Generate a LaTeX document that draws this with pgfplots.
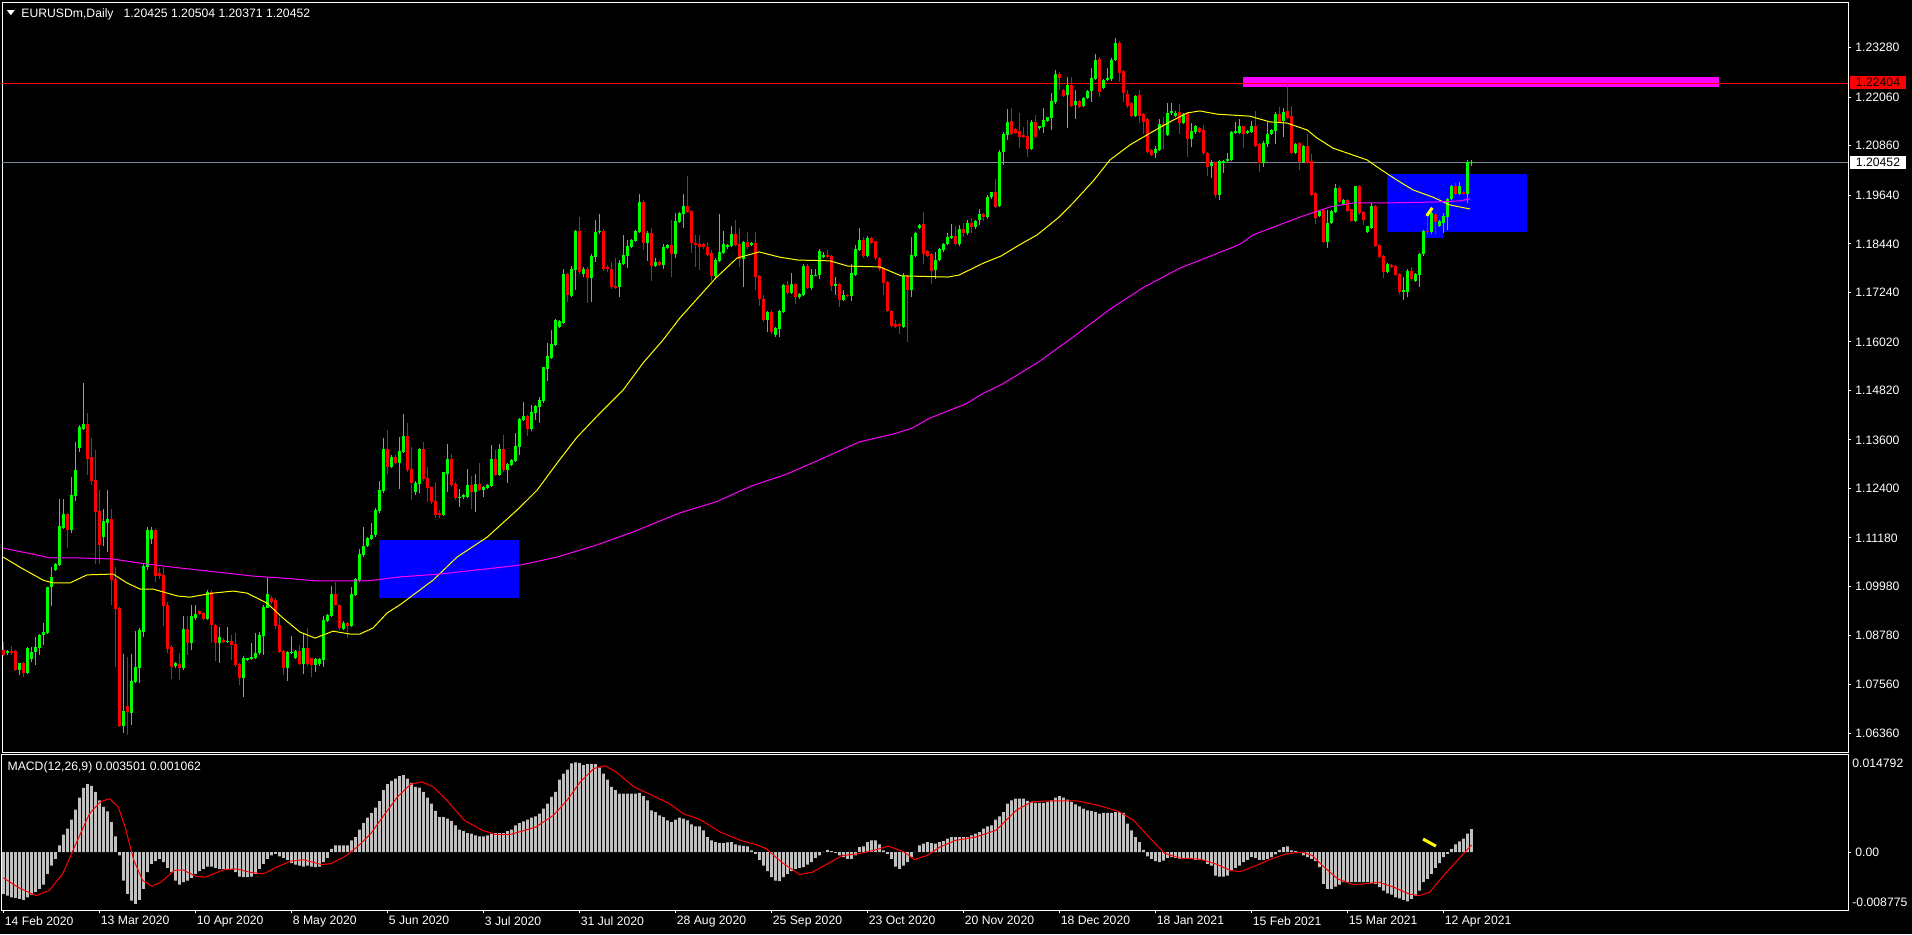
\documentclass[border=0pt]{standalone}
\usepackage{fontspec}
\setmainfont{Liberation Sans}
\usepackage{pgfplots}
\usepackage{pgfplotstable}
\pgfplotsset{compat=1.18}

\definecolor{bull}{RGB}{0,255,0}
\definecolor{bear}{RGB}{255,0,0}
\definecolor{histgray}{RGB}{192,192,192}
\definecolor{bidline}{RGB}{119,136,153}
\definecolor{mayellow}{RGB}{255,255,0}
\definecolor{mamagenta}{RGB}{255,0,255}
\definecolor{zoneblue}{RGB}{0,0,255}

\newcommand\lblfont{\fontsize{6.1}{7.3}\selectfont}

% daily EURUSD candles, one row per bar (x = row number)
\pgfplotstableread{
o h l c
1.0841 1.0861 1.0826 1.0829
1.0835 1.0842 1.0830 1.0839
1.0839 1.0851 1.0829 1.0835
1.0838 1.0841 1.0790 1.0792
1.0792 1.0810 1.0780 1.0808
1.0808 1.0811 1.0775 1.0785
1.0785 1.0848 1.0783 1.0845
1.0819 1.0850 1.0813 1.0837
1.0837 1.0874 1.0804 1.0848
1.0847 1.0881 1.0829 1.0878
1.0878 1.0907 1.0854 1.0886
1.0884 1.0998 1.0880 1.0996
1.0996 1.1047 1.0950 1.1021
1.1039 1.1056 1.1036 1.1054
1.1052 1.1214 1.1050 1.1146
1.1143 1.1214 1.1140 1.1177
1.1177 1.1180 1.1094 1.1137
1.1137 1.1269 1.1130 1.1224
1.1222 1.1356 1.1209 1.1286
1.1339 1.1398 1.1330 1.1390
1.1388 1.1500 1.1385 1.1399
1.1399 1.1427 1.1273 1.1313
1.1316 1.1366 1.1248 1.1258
1.1261 1.1335 1.1055 1.1182
1.1184 1.1236 1.1055 1.1100
1.1120 1.1190 1.1098 1.1158
1.1156 1.1236 1.1084 1.1165
1.1165 1.1190 1.0952 1.1014
1.1016 1.1047 1.0800 1.0942
1.0945 1.0948 1.0652 1.0654
1.0654 1.0831 1.0637 1.0689
1.0703 1.0825 1.0632 1.0689
1.0687 1.0831 1.0656 1.0765
1.0763 1.0888 1.0759 1.0799
1.0798 1.0895 1.0759 1.0889
1.0887 1.1057 1.0874 1.1049
1.1047 1.1146 1.1040 1.1137
1.1115 1.1146 1.1102 1.1137
1.1137 1.1140 1.1010 1.1025
1.1030 1.1043 1.1018 1.1024
1.1025 1.1047 1.0902 1.0951
1.0953 1.0960 1.0835 1.0845
1.0847 1.0855 1.0770 1.0800
1.0803 1.0812 1.0798 1.0808
1.0806 1.0835 1.0767 1.0797
1.0797 1.0926 1.0793 1.0893
1.0893 1.0926 1.0830 1.0858
1.0858 1.0952 1.0841 1.0924
1.0921 1.0952 1.0915 1.0930
1.0937 1.0940 1.0928 1.0930
1.0932 1.0935 1.0915 1.0919
1.0919 1.0989 1.0915 1.0984
1.0984 1.0989 1.0858 1.0903
1.0903 1.0906 1.0815 1.0858
1.0858 1.0899 1.0810 1.0872
1.0866 1.0870 1.0858 1.0862
1.0862 1.0899 1.0858 1.0864
1.0864 1.0878 1.0817 1.0855
1.0856 1.0883 1.0800 1.0804
1.0806 1.0810 1.0755 1.0773
1.0773 1.0828 1.0726 1.0820
1.0817 1.0823 1.0814 1.0820
1.0820 1.0859 1.0818 1.0824
1.0822 1.0883 1.0820 1.0834
1.0834 1.0886 1.0830 1.0878
1.0876 1.0952 1.0830 1.0946
1.0946 1.1019 1.0944 1.0979
1.0969 1.0975 1.0955 1.0960
1.0963 1.0969 1.0894 1.0900
1.0903 1.0924 1.0834 1.0837
1.0839 1.0842 1.0780 1.0797
1.0797 1.0840 1.0766 1.0837
1.0835 1.0876 1.0832 1.0837
1.0823 1.0842 1.0820 1.0839
1.0839 1.0854 1.0805 1.0808
1.0808 1.0882 1.0783 1.0845
1.0845 1.0895 1.0803 1.0806
1.0820 1.0823 1.0774 1.0804
1.0805 1.0821 1.0787 1.0818
1.0806 1.0822 1.0803 1.0818
1.0818 1.0926 1.0800 1.0915
1.0914 1.0931 1.0911 1.0928
1.0926 1.0999 1.0922 1.0978
1.0978 1.1010 1.0950 1.0952
1.0952 1.0955 1.0890 1.0895
1.0894 1.0912 1.0890 1.0908
1.0908 1.0911 1.0871 1.0902
1.0902 1.0996 1.0898 1.0978
1.0977 1.1020 1.0975 1.1016
1.1014 1.1092 1.1010 1.1078
1.1076 1.1146 1.1070 1.1098
1.1098 1.1121 1.1095 1.1117
1.1115 1.1154 1.1112 1.1125
1.1125 1.1192 1.1120 1.1187
1.1185 1.1258 1.1180 1.1236
1.1234 1.1364 1.1230 1.1337
1.1337 1.1384 1.1277 1.1292
1.1294 1.1322 1.1290 1.1318
1.1318 1.1322 1.1300 1.1304
1.1304 1.1368 1.1240 1.1333
1.1331 1.1424 1.1328 1.1368
1.1368 1.1403 1.1282 1.1286
1.1288 1.1343 1.1211 1.1254
1.1232 1.1258 1.1224 1.1254
1.1252 1.1341 1.1228 1.1338
1.1338 1.1355 1.1258 1.1263
1.1265 1.1293 1.1207 1.1242
1.1242 1.1245 1.1203 1.1207
1.1209 1.1257 1.1168 1.1175
1.1180 1.1187 1.1168 1.1175
1.1175 1.1281 1.1172 1.1279
1.1277 1.1350 1.1232 1.1312
1.1312 1.1326 1.1245 1.1249
1.1251 1.1255 1.1212 1.1217
1.1216 1.1240 1.1195 1.1218
1.1218 1.1227 1.1215 1.1223
1.1220 1.1288 1.1217 1.1248
1.1248 1.1270 1.1189 1.1232
1.1232 1.1276 1.1183 1.1251
1.1251 1.1302 1.1233 1.1236
1.1236 1.1247 1.1219 1.1244
1.1242 1.1252 1.1238 1.1248
1.1246 1.1347 1.1243 1.1312
1.1312 1.1335 1.1270 1.1273
1.1273 1.1351 1.1270 1.1336
1.1336 1.1372 1.1282 1.1285
1.1285 1.1303 1.1253 1.1300
1.1298 1.1314 1.1295 1.1310
1.1308 1.1376 1.1305 1.1345
1.1343 1.1413 1.1322 1.1411
1.1409 1.1453 1.1406 1.1419
1.1419 1.1422 1.1370 1.1388
1.1388 1.1446 1.1381 1.1427
1.1427 1.1447 1.1408 1.1444
1.1441 1.1466 1.1402 1.1457
1.1455 1.1541 1.1452 1.1538
1.1535 1.1600 1.1506 1.1567
1.1563 1.1631 1.1560 1.1597
1.1595 1.1659 1.1592 1.1654
1.1639 1.1655 1.1636 1.1652
1.1648 1.1783 1.1645 1.1769
1.1769 1.1772 1.1700 1.1718
1.1716 1.1790 1.1712 1.1782
1.1779 1.1878 1.1730 1.1874
1.1874 1.1911 1.1770 1.1775
1.1769 1.1786 1.1763 1.1782
1.1782 1.1788 1.1697 1.1760
1.1760 1.1818 1.1701 1.1814
1.1812 1.1904 1.1800 1.1873
1.1872 1.1917 1.1868 1.1875
1.1875 1.1880 1.1778 1.1782
1.1787 1.1792 1.1775 1.1782
1.1782 1.1800 1.1733 1.1737
1.1738 1.1808 1.1733 1.1736
1.1737 1.1804 1.1712 1.1796
1.1794 1.1866 1.1792 1.1816
1.1814 1.1854 1.1784 1.1839
1.1837 1.1855 1.1834 1.1852
1.1852 1.1878 1.1849 1.1874
1.1874 1.1967 1.1870 1.1947
1.1947 1.1952 1.1829 1.1845
1.1845 1.1875 1.1802 1.1871
1.1871 1.1882 1.1753 1.1790
1.1790 1.1808 1.1787 1.1799
1.1799 1.1802 1.1789 1.1792
1.1792 1.1843 1.1781 1.1835
1.1834 1.1844 1.1831 1.1841
1.1841 1.1903 1.1763 1.1820
1.1820 1.1919 1.1810 1.1900
1.1899 1.1922 1.1896 1.1919
1.1917 1.1967 1.1882 1.1937
1.1937 1.2012 1.1920 1.1923
1.1925 1.1928 1.1822 1.1845
1.1845 1.1866 1.1788 1.1841
1.1843 1.1866 1.1779 1.1835
1.1843 1.1846 1.1832 1.1835
1.1835 1.1849 1.1813 1.1816
1.1820 1.1829 1.1753 1.1764
1.1764 1.1808 1.1760 1.1804
1.1801 1.1918 1.1798 1.1824
1.1822 1.1876 1.1820 1.1843
1.1835 1.1844 1.1832 1.1841
1.1839 1.1888 1.1836 1.1868
1.1868 1.1903 1.1838 1.1841
1.1843 1.1882 1.1788 1.1806
1.1806 1.1852 1.1738 1.1848
1.1848 1.1874 1.1832 1.1835
1.1841 1.1848 1.1838 1.1845
1.1845 1.1874 1.1730 1.1763
1.1764 1.1767 1.1690 1.1707
1.1708 1.1717 1.1651 1.1657
1.1657 1.1678 1.1627 1.1675
1.1675 1.1680 1.1622 1.1627
1.1620 1.1638 1.1615 1.1635
1.1633 1.1680 1.1615 1.1678
1.1676 1.1746 1.1673 1.1742
1.1742 1.1753 1.1720 1.1723
1.1723 1.1771 1.1720 1.1745
1.1745 1.1748 1.1695 1.1713
1.1712 1.1723 1.1709 1.1720
1.1718 1.1795 1.1715 1.1789
1.1789 1.1793 1.1732 1.1736
1.1736 1.1783 1.1730 1.1766
1.1766 1.1781 1.1764 1.1767
1.1767 1.1831 1.1758 1.1825
1.1812 1.1825 1.1808 1.1816
1.1816 1.1828 1.1809 1.1812
1.1813 1.1816 1.1728 1.1741
1.1741 1.1761 1.1718 1.1745
1.1745 1.1748 1.1689 1.1706
1.1706 1.1730 1.1703 1.1717
1.1718 1.1720 1.1712 1.1715
1.1716 1.1794 1.1704 1.1770
1.1768 1.1841 1.1765 1.1831
1.1829 1.1882 1.1826 1.1853
1.1853 1.1861 1.1810 1.1814
1.1814 1.1863 1.1811 1.1857
1.1857 1.1860 1.1844 1.1847
1.1849 1.1852 1.1805 1.1808
1.1808 1.1811 1.1778 1.1781
1.1783 1.1786 1.1717 1.1748
1.1749 1.1752 1.1675 1.1678
1.1678 1.1681 1.1639 1.1641
1.1646 1.1656 1.1636 1.1639
1.1645 1.1648 1.1621 1.1641
1.1639 1.1771 1.1636 1.1763
1.1763 1.1767 1.1602 1.1730
1.1730 1.1860 1.1712 1.1816
1.1814 1.1874 1.1811 1.1870
1.1884 1.1894 1.1881 1.1890
1.1891 1.1922 1.1795 1.1819
1.1826 1.1829 1.1811 1.1814
1.1819 1.1822 1.1746 1.1778
1.1779 1.1823 1.1758 1.1804
1.1804 1.1833 1.1801 1.1830
1.1828 1.1846 1.1825 1.1843
1.1843 1.1871 1.1840 1.1859
1.1859 1.1893 1.1856 1.1862
1.1863 1.1889 1.1840 1.1843
1.1843 1.1890 1.1838 1.1880
1.1880 1.1895 1.1860 1.1870
1.1870 1.1902 1.1865 1.1895
1.1895 1.1907 1.1870 1.1885
1.1885 1.1902 1.1880 1.1899
1.1903 1.1929 1.1890 1.1917
1.1917 1.1920 1.1900 1.1909
1.1911 1.1964 1.1905 1.1959
1.1959 1.1973 1.1955 1.1970
1.1971 1.2004 1.1932 1.1936
1.1938 1.2075 1.1935 1.2070
1.2071 1.2121 1.2038 1.2115
1.2112 1.2177 1.2100 1.2145
1.2146 1.2178 1.2112 1.2115
1.2126 1.2130 1.2115 1.2118
1.2122 1.2166 1.2080 1.2108
1.2111 1.2133 1.2105 1.2108
1.2110 1.2150 1.2059 1.2077
1.2078 1.2150 1.2075 1.2145
1.2145 1.2162 1.2104 1.2107
1.2129 1.2136 1.2126 1.2133
1.2133 1.2178 1.2117 1.2150
1.2148 1.2158 1.2145 1.2155
1.2155 1.2217 1.2125 1.2196
1.2194 1.2273 1.2189 1.2263
1.2263 1.2269 1.2224 1.2254
1.2224 1.2227 1.2207 1.2210
1.2211 1.2256 1.2131 1.2236
1.2236 1.2256 1.2182 1.2185
1.2187 1.2224 1.2152 1.2195
1.2196 1.2199 1.2178 1.2181
1.2185 1.2207 1.2181 1.2204
1.2204 1.2224 1.2201 1.2221
1.2220 1.2279 1.2195 1.2253
1.2252 1.2312 1.2249 1.2298
1.2300 1.2304 1.2207 1.2218
1.2228 1.2252 1.2225 1.2248
1.2248 1.2279 1.2245 1.2253
1.2250 1.2302 1.2247 1.2298
1.2298 1.2351 1.2295 1.2339
1.2339 1.2345 1.2244 1.2266
1.2270 1.2274 1.2195 1.2217
1.2214 1.2224 1.2180 1.2184
1.2190 1.2194 1.2157 1.2160
1.2160 1.2212 1.2157 1.2209
1.2211 1.2224 1.2141 1.2160
1.2163 1.2166 1.2116 1.2145
1.2152 1.2155 1.2068 1.2071
1.2075 1.2078 1.2060 1.2063
1.2067 1.2085 1.2055 1.2077
1.2075 1.2152 1.2072 1.2140
1.2140 1.2158 1.2077 1.2135
1.2113 1.2191 1.2110 1.2166
1.2166 1.2191 1.2163 1.2170
1.2160 1.2173 1.2157 1.2166
1.2168 1.2188 1.2116 1.2141
1.2143 1.2167 1.2140 1.2164
1.2166 1.2169 1.2059 1.2102
1.2102 1.2141 1.2082 1.2122
1.2119 1.2138 1.2116 1.2135
1.2130 1.2133 1.2118 1.2121
1.2125 1.2137 1.2064 1.2067
1.2067 1.2070 1.2012 1.2034
1.2037 1.2051 1.2006 1.2042
1.2044 1.2047 1.1956 1.1964
1.1964 1.2051 1.1952 1.2047
1.2043 1.2051 1.2020 1.2048
1.2048 1.2067 1.2045 1.2053
1.2051 1.2122 1.2048 1.2119
1.2117 1.2145 1.2114 1.2121
1.2117 1.2151 1.2114 1.2133
1.2133 1.2136 1.2081 1.2115
1.2118 1.2124 1.2115 1.2121
1.2121 1.2148 1.2118 1.2133
1.2135 1.2172 1.2084 1.2086
1.2090 1.2093 1.2022 1.2044
1.2044 1.2098 1.2034 1.2092
1.2090 1.2145 1.2082 1.2115
1.2115 1.2128 1.2112 1.2125
1.2123 1.2170 1.2090 1.2164
1.2164 1.2181 1.2142 1.2145
1.2148 1.2178 1.2108 1.2169
1.2172 1.2240 1.2152 1.2155
1.2159 1.2184 1.2066 1.2069
1.2069 1.2093 1.2066 1.2090
1.2092 1.2095 1.2026 1.2047
1.2047 1.2087 1.2044 1.2084
1.2085 1.2115 1.2041 1.2044
1.2048 1.2066 1.1961 1.1964
1.1968 1.1971 1.1893 1.1907
1.1913 1.1926 1.1910 1.1923
1.1927 1.1930 1.1846 1.1849
1.1849 1.1927 1.1834 1.1894
1.1896 1.1928 1.1893 1.1925
1.1923 1.1991 1.1920 1.1982
1.1982 1.1986 1.1945 1.1948
1.1942 1.1955 1.1939 1.1952
1.1952 1.1955 1.1922 1.1926
1.1928 1.1931 1.1898 1.1901
1.1901 1.1987 1.1898 1.1985
1.1985 1.1988 1.1916 1.1919
1.1921 1.1924 1.1890 1.1904
1.1874 1.1889 1.1870 1.1886
1.1884 1.1944 1.1881 1.1936
1.1936 1.1940 1.1836 1.1839
1.1841 1.1844 1.1808 1.1812
1.1814 1.1817 1.1759 1.1775
1.1775 1.1797 1.1772 1.1794
1.1792 1.1795 1.1785 1.1788
1.1789 1.1792 1.1765 1.1768
1.1768 1.1771 1.1720 1.1724
1.1724 1.1763 1.1705 1.1730
1.1726 1.1781 1.1712 1.1777
1.1777 1.1787 1.1753 1.1756
1.1752 1.1772 1.1749 1.1769
1.1768 1.1822 1.1738 1.1819
1.1818 1.1878 1.1815 1.1875
1.1876 1.1923 1.1869 1.1872
1.1872 1.1922 1.1869 1.1919
1.1917 1.1920 1.1868 1.1899
1.1888 1.1902 1.1885 1.1899
1.1896 1.1919 1.1871 1.1913
1.1911 1.1958 1.1878 1.1955
1.1955 1.1990 1.1952 1.1985
1.1985 1.1995 1.1965 1.1968
1.1968 1.1997 1.1965 1.1985
1.1972 1.1975 1.1965 1.1968
1.1967 1.2051 1.1944 1.2044
1.20425 1.20504 1.20371 1.20452
}\ohlc

% MACD(12,26,9) main values (histogram), one per bar
\pgfplotstableread{
v
-0.00634
-0.00659
-0.00684
-0.00695
-0.00710
-0.00725
-0.00684
-0.00644
-0.00608
-0.00558
-0.00492
-0.00330
-0.00203
-0.00101
0.00101
0.00264
0.00355
0.00492
0.00644
0.00826
0.00973
0.01029
0.01004
0.00913
0.00786
0.00684
0.00619
0.00456
0.00238
-0.00051
-0.00431
-0.00634
-0.00735
-0.00786
-0.00725
-0.00558
-0.00304
-0.00177
-0.00137
-0.00101
-0.00152
-0.00238
-0.00304
-0.00431
-0.00492
-0.00456
-0.00431
-0.00390
-0.00330
-0.00289
-0.00254
-0.00218
-0.00218
-0.00238
-0.00254
-0.00254
-0.00254
-0.00254
-0.00304
-0.00370
-0.00380
-0.00380
-0.00370
-0.00330
-0.00254
-0.00177
-0.00101
-0.00051
-0.00025
-0.00066
-0.00086
-0.00117
-0.00167
-0.00188
-0.00203
-0.00218
-0.00203
-0.00218
-0.00228
-0.00218
-0.00152
-0.00086
0.00051
0.00101
0.00101
0.00101
0.00101
0.00177
0.00228
0.00340
0.00441
0.00522
0.00593
0.00674
0.00771
0.00938
0.01029
0.01080
0.01115
0.01151
0.01166
0.01115
0.01049
0.00989
0.00979
0.00913
0.00826
0.00735
0.00624
0.00532
0.00532
0.00507
0.00472
0.00406
0.00340
0.00319
0.00289
0.00279
0.00254
0.00238
0.00238
0.00254
0.00279
0.00289
0.00289
0.00289
0.00319
0.00340
0.00406
0.00441
0.00466
0.00492
0.00522
0.00542
0.00583
0.00659
0.00735
0.00837
0.00913
0.01100
0.01191
0.01252
0.01344
0.01359
0.01354
0.01318
0.01333
0.01333
0.01333
0.01283
0.01191
0.01100
0.00989
0.00938
0.00887
0.00887
0.00887
0.00887
0.00887
0.00897
0.00847
0.00786
0.00634
0.00608
0.00558
0.00532
0.00482
0.00456
0.00492
0.00522
0.00507
0.00482
0.00421
0.00390
0.00390
0.00330
0.00228
0.00177
0.00152
0.00137
0.00137
0.00147
0.00152
0.00117
0.00101
0.00096
0.00086
0.00025
-0.00025
-0.00117
-0.00203
-0.00289
-0.00380
-0.00431
-0.00441
-0.00380
-0.00330
-0.00289
-0.00254
-0.00240
-0.00228
-0.00188
-0.00152
-0.00086
-0.00051
0.00005
0.00035
0.00015
-0.00010
-0.00051
-0.00076
-0.00101
-0.00101
-0.00051
0.00076
0.00086
0.00152
0.00177
0.00177
0.00117
0.00025
-0.00025
-0.00101
-0.00218
-0.00254
-0.00203
-0.00152
-0.00076
0.00003
0.00101
0.00127
0.00152
0.00137
0.00127
0.00152
0.00167
0.00203
0.00228
0.00228
0.00228
0.00228
0.00228
0.00254
0.00279
0.00304
0.00355
0.00390
0.00406
0.00492
0.00540
0.00608
0.00735
0.00786
0.00811
0.00811
0.00811
0.00776
0.00761
0.00745
0.00745
0.00745
0.00761
0.00786
0.00826
0.00847
0.00826
0.00796
0.00761
0.00725
0.00695
0.00659
0.00634
0.00624
0.00608
0.00583
0.00593
0.00593
0.00593
0.00608
0.00608
0.00593
0.00431
0.00330
0.00228
0.00152
0.00035
-0.00066
-0.00101
-0.00137
-0.00152
-0.00127
-0.00086
-0.00076
-0.00086
-0.00101
-0.00101
-0.00101
-0.00101
-0.00117
-0.00117
-0.00117
-0.00177
-0.00203
-0.00355
-0.00370
-0.00370
-0.00355
-0.00289
-0.00238
-0.00203
-0.00152
-0.00117
-0.00076
-0.00086
-0.00117
-0.00117
-0.00101
-0.00076
-0.00035
0.00035
0.00076
0.00086
0.00025
0.00015
-0.00015
-0.00051
-0.00076
-0.00101
-0.00137
-0.00228
-0.00482
-0.00558
-0.00558
-0.00522
-0.00492
-0.00456
-0.00456
-0.00456
-0.00456
-0.00456
-0.00456
-0.00456
-0.00472
-0.00482
-0.00532
-0.00583
-0.00624
-0.00644
-0.00684
-0.00700
-0.00725
-0.00745
-0.00710
-0.00659
-0.00583
-0.00456
-0.00406
-0.00330
-0.00238
-0.00167
-0.00076
-0.00025
0.00051
0.00117
0.00162
0.00203
0.00279
0.003501
}\macdhist

\pgfplotsset{
  mtpanel/.style={
    scale only axis, width=923pt, enlargelimits=false,
    xmin=-0.375, xmax=461.125,
    scaled x ticks=false, scaled y ticks=false,
    axis background/.style={fill=black},
    axis line style={white, line width=0.5pt},
    tick align=outside, major tick length=1.5pt,
    tick style={white, line width=0.5pt},
    tick label style={font=\lblfont, text=white, inner sep=0pt},
    ytick pos=right, yticklabel pos=right,
    yticklabel style={anchor=west, xshift=2pt},
    clip=true,
  },
}

\begin{document}
\begin{tikzpicture}[font=\lblfont]
\useasboundingbox (0,0) rectangle (956pt,-467pt);
\fill[black] (0,0) rectangle (956pt,-467pt);

% ---- price panel ----
\begin{axis}[mtpanel,
  at={(1pt,-1pt)}, anchor=north west, height=375pt,
  ymin=1.05898, ymax=1.24408,
  xtick=\empty,
  ytick={1.06360,1.07560,1.08780,1.09980,1.11180,1.12400,1.13600,1.14820,1.16020,1.17240,1.18440,1.19640,1.20860,1.22060,1.23280},
  yticklabels={1.06360,1.07560,1.08780,1.09980,1.11180,1.12400,1.13600,1.14820,1.16020,1.17240,1.18440,1.19640,1.20860,1.22060,1.23280},
]
% zones
\addplot[fill=zoneblue, draw=none, forget plot] coordinates {(93.9,1.0970) (128.9,1.0970) (128.9,1.1113) (93.9,1.1113)};
\addplot[fill=zoneblue, draw=none, forget plot] coordinates {(345.9,1.1873) (380.9,1.1873) (380.9,1.2016) (345.9,1.2016)};
\addplot[fill=zoneblue, draw=none, forget plot] coordinates {(355.4,1.1858) (359.9,1.1858) (359.9,1.1873) (355.4,1.1873)};
\addplot[fill=mamagenta, draw=none, forget plot] coordinates {(309.9,1.2231) (428.9,1.2231) (428.9,1.2256) (309.9,1.2256)};
% level and bid lines
\addplot[bear, line width=0.5pt, forget plot] coordinates {(-1,1.22404) (470,1.22404)};
\addplot[bidline, line width=0.5pt, forget plot] coordinates {(-1,1.20452) (470,1.20452)};
% candles: wicks
\addplot[draw=none, mark=none, forget plot, unbounded coords=discard,
  error bars/.cd, y dir=plus, y explicit, error mark=none,
  error bar style={draw=bull, line width=0.5pt}]
  table[x expr=\coordindex, y expr={\thisrow{c}>=\thisrow{o} ? \thisrow{l} : nan},
        y error plus expr=\thisrow{h}-\thisrow{l}] {\ohlc};
\addplot[draw=none, mark=none, forget plot, unbounded coords=discard,
  error bars/.cd, y dir=plus, y explicit, error mark=none,
  error bar style={draw=bear, line width=0.5pt}]
  table[x expr=\coordindex, y expr={\thisrow{c}<\thisrow{o} ? \thisrow{l} : nan},
        y error plus expr=\thisrow{h}-\thisrow{l}] {\ohlc};
% candles: bodies
\addplot[draw=none, mark=none, forget plot, unbounded coords=discard,
  error bars/.cd, y dir=plus, y explicit, error mark=none,
  error bar style={draw=bull, line width=1.5pt}]
  table[x expr=\coordindex, y expr={\thisrow{c}>=\thisrow{o} ? \thisrow{o} : nan},
        y error plus expr=\thisrow{c}-\thisrow{o}+0.00008] {\ohlc};
\addplot[draw=none, mark=none, forget plot, unbounded coords=discard,
  error bars/.cd, y dir=plus, y explicit, error mark=none,
  error bar style={draw=bear, line width=1.5pt}]
  table[x expr=\coordindex, y expr={\thisrow{c}<\thisrow{o} ? \thisrow{c} : nan},
        y error plus expr=\thisrow{o}-\thisrow{c}+0.00008] {\ohlc};
% moving averages
\addplot[mayellow, line width=0.5pt] coordinates {
(-0.1,1.1071) (4.1,1.1046) (9.9,1.1014) (12.4,1.1007) (16.6,1.1007) (20.9,1.1027)
(27.4,1.1029) (30.9,1.1007) (34.1,1.0992) (37.4,1.0992) (43.4,1.0975) (46.6,1.0972)
(52.4,1.0982) (57.4,1.0987) (60.9,1.0982) (65.9,1.0957) (69.9,1.0920) (74.1,1.0886)
(77.9,1.0871) (82.4,1.0888) (86.6,1.0881) (89.1,1.0881) (92.4,1.0896) (95.9,1.0933)
(99.1,1.0953) (107.4,1.1014) (113.4,1.1071) (120.9,1.1120) (128.4,1.1187) (133.4,1.1236)
(138.4,1.1303) (143.4,1.1367) (149.1,1.1426) (154.9,1.1483) (159.9,1.1550) (164.9,1.1607)
(169.1,1.1661) (178.1,1.1760) (183.4,1.1809) (188.9,1.1824) (194.1,1.1811) (198.6,1.1804)
(206.6,1.1802) (211.1,1.1789) (219.1,1.1787) (224.4,1.1765) (236.1,1.1762) (238.9,1.1767)
(245.1,1.1797) (249.4,1.1814) (253.9,1.1841) (258.4,1.1866) (263.9,1.1910) (267.4,1.1945)
(272.6,1.2001) (276.6,1.2051) (281.6,1.2088) (286.6,1.2117) (291.6,1.2145) (295.9,1.2167)
(299.1,1.2172) (303.4,1.2164) (311.6,1.2159) (316.6,1.2145) (320.9,1.2142) (325.9,1.2125)
(328.4,1.2105) (332.4,1.2080) (337.4,1.2063) (340.9,1.2051) (344.1,1.2029) (348.4,1.2001)
(352.4,1.1977) (357.4,1.1959) (361.6,1.1940) (366.6,1.1930)};
\addplot[mamagenta, line width=0.5pt] coordinates {
(-0.1,1.1093) (7.4,1.1078) (11.6,1.1069) (18.4,1.1069) (27.4,1.1066) (34.1,1.1056)
(44.1,1.1044) (53.4,1.1034) (62.4,1.1024) (69.9,1.1019) (78.4,1.1012) (90.9,1.1012)
(99.1,1.1022) (109.1,1.1029) (129.1,1.1051) (138.4,1.1071) (148.4,1.1101) (157.4,1.1133)
(169.1,1.1180) (178.1,1.1207) (186.9,1.1246) (195.9,1.1276) (204.9,1.1315) (213.9,1.1355)
(222.6,1.1375) (227.1,1.1389) (231.6,1.1414) (240.6,1.1449) (245.1,1.1476) (249.4,1.1496)
(258.4,1.1550) (267.4,1.1614) (276.4,1.1681) (285.1,1.1737) (294.1,1.1784) (303.1,1.1819)
(309.1,1.1843) (312.4,1.1866) (320.9,1.1898) (324.1,1.1910) (331.6,1.1935) (337.4,1.1945)
(345.9,1.1945) (357.4,1.1947) (364.1,1.1950) (366.6,1.1955)};
% short trend stroke
\addplot[mayellow, line width=1.5pt] coordinates {(355.8,1.1913) (357.2,1.1933)};
\end{axis}

% ---- MACD panel ----
\begin{axis}[mtpanel,
  at={(1pt,-377.25pt)}, anchor=north west, height=77.75pt,
  ymin=-0.008775, ymax=0.014792,
  xtick={0,24,...,360},
  xticklabels={14 Feb 2020,13 Mar 2020,10 Apr 2020,8 May 2020,5 Jun 2020,3 Jul 2020,31 Jul 2020,28 Aug 2020,25 Sep 2020,23 Oct 2020,20 Nov 2020,18 Dec 2020,18 Jan 2021,15 Feb 2021,15 Mar 2021,12 Apr 2021},
  xtick pos=bottom,
  xticklabel style={anchor=north west, xshift=0.5pt, yshift=-1.5pt},
  ytick={0}, yticklabels={0.00},
  yticklabel style={xshift=0pt},
]
\addplot[ybar, bar width=0.7, bar shift=0pt, fill=histgray, draw=none] table[x expr=\coordindex, y=v] {\macdhist};
\addplot[bear, line width=0.5pt] coordinates {
(0.0,-0.00390) (3.6,-0.00532) (8.1,-0.00659) (11.4,-0.00583) (14.8,-0.00330) (18.1,0.00127)
(21.5,0.00583) (24.2,0.00761) (26.5,0.00811) (28.7,0.00684) (30.4,0.00380) (32.6,-0.00127)
(34.8,-0.00431) (37.1,-0.00517) (39.3,-0.00456) (42.7,-0.00279) (44.9,-0.00269) (48.2,-0.00370)
(50.5,-0.00380) (54.9,-0.00269) (58.3,-0.00254) (61.6,-0.00304) (65.0,-0.00330) (68.3,-0.00228)
(71.7,-0.00137) (75.0,-0.00117) (77.3,-0.00152) (79.5,-0.00188) (81.7,-0.00177) (85.1,-0.00076)
(88.4,0.00076) (91.8,0.00279) (95.1,0.00558) (98.5,0.00837) (101.8,0.01029) (104.6,0.01065)
(107.4,0.00989) (110.7,0.00796) (115.2,0.00482) (119.7,0.00330) (123.0,0.00269) (126.4,0.00264)
(129.7,0.00319) (133.1,0.00380) (137.5,0.00558) (140.9,0.00786) (144.2,0.01065) (147.6,0.01268)
(150.4,0.01308) (153.1,0.01217) (157.6,0.00989) (162.1,0.00862) (166.5,0.00735) (169.9,0.00583)
(174.1,0.00495) (179.2,0.00304) (184.3,0.00177) (188.2,0.00112) (190.7,0.00051) (194.5,-0.00152)
(199.0,-0.00340) (202.2,-0.00304) (206.0,-0.00177) (209.8,-0.00051) (213.7,-0.00025) (217.5,0.00025)
(221.3,0.00091) (225.2,0.00000) (227.7,-0.00112) (230.9,-0.00051) (234.1,0.00076) (237.9,0.00177)
(243.0,0.00228) (248.1,0.00330) (253.2,0.00634) (257.0,0.00761) (260.9,0.00776) (264.7,0.00776)
(268.5,0.00776) (273.6,0.00710) (278.7,0.00619) (282.5,0.00482) (286.4,0.00228) (290.2,-0.00015)
(294.0,-0.00091) (299.1,-0.00106) (303.0,-0.00177) (306.8,-0.00279) (309.3,-0.00294) (313.2,-0.00203)
(317.0,-0.00101) (320.8,-0.00025) (324.6,0.00000) (327.2,-0.00051) (329.7,-0.00203) (333.6,-0.00406)
(337.4,-0.00492) (339.9,-0.00482) (343.8,-0.00456) (347.6,-0.00532) (351.4,-0.00634) (354.0,-0.00659)
(356.5,-0.00608) (360.4,-0.00330) (364.2,-0.00076) (367.0,0.00106)};
\addplot[mayellow, line width=1.5pt] coordinates {(354.9,0.00198) (358.1,0.00091)};
\end{axis}

% ---- texts ----
\fill[white] (3.4pt,-5pt) -- (7.4pt,-5pt) -- (5.4pt,-7.6pt) -- cycle;
\node[anchor=base west, text=white, inner sep=0pt] at (10.5pt,-8.6pt)
  {EURUSDm,Daily\hspace{5pt}1.20425 1.20504 1.20371 1.20452};
\node[anchor=base west, text=white, inner sep=0pt] at (3.6pt,-385pt)
  {MACD(12,26,9) 0.003501 0.001062};
\node[anchor=west, text=white, inner sep=0pt] at (926pt,-381.5pt) {0.014792};
\node[anchor=west, text=white, inner sep=0pt] at (926pt,-451pt) {-0.008775};
\node[anchor=center, fill=bear, text=black, inner sep=0pt, minimum width=28pt, minimum height=6.5pt]
  at (939pt,-41.2pt) {1.22404};
\node[anchor=center, fill=white, text=black, inner sep=0pt, minimum width=28pt, minimum height=6.5pt]
  at (939pt,-81.2pt) {1.20452};
\end{tikzpicture}
\end{document}
